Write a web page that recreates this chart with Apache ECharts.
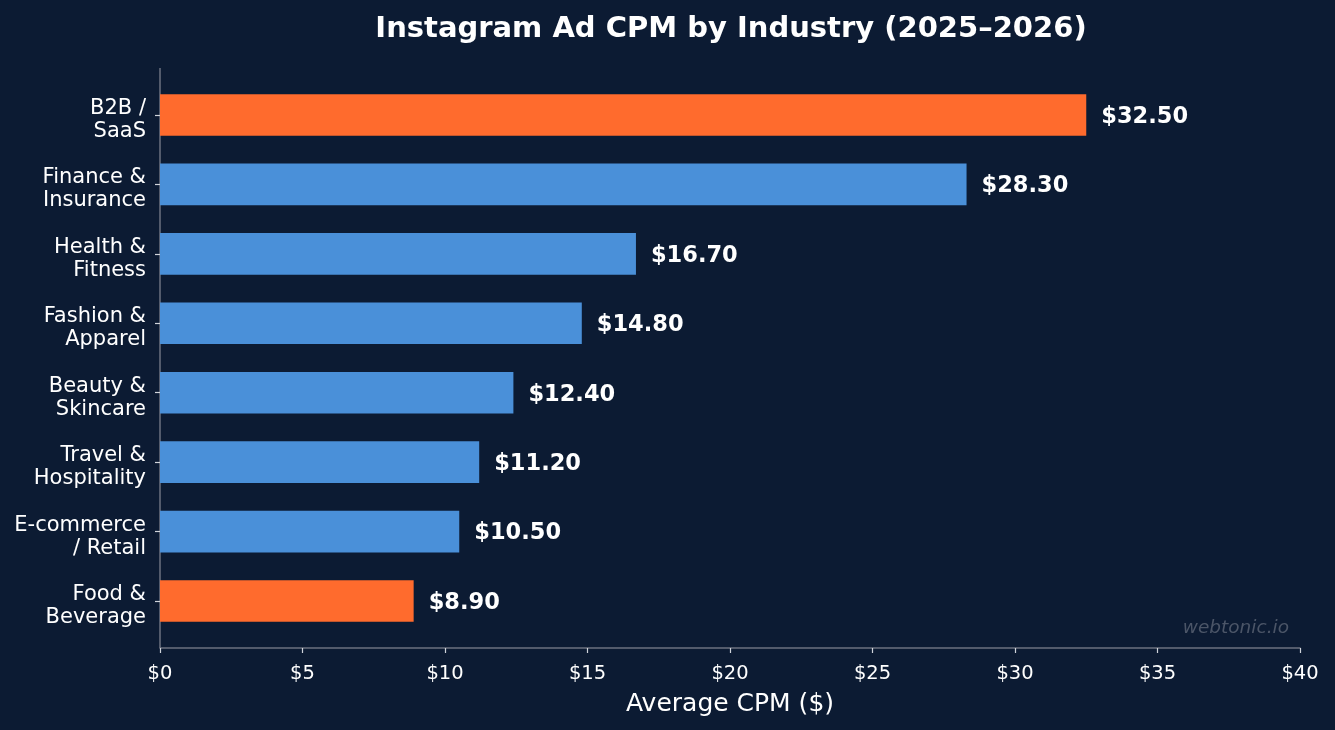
<!DOCTYPE html>
<html>
<head>
<meta charset="utf-8">
<script src="https://cdn.jsdelivr.net/npm/echarts@6/dist/echarts.min.js"></script>
<style>
  html, body { margin: 0; padding: 0; background: #0c1b33; }
  #chart { width: 1335px; height: 730px; }
</style>
</head>
<body>
<div id="chart"></div>
<script>
const industries = ['B2B /\nSaaS', 'Finance &\nInsurance', 'Health &\nFitness', 'Fashion &\nApparel',
    'Beauty &\nSkincare', 'Travel &\nHospitality', 'E-commerce\n/ Retail', 'Food &\nBeverage'];
const cpmValues = [32.5, 28.3, 16.7, 14.8, 12.4, 11.2, 10.5, 8.9];
// highest and lowest get the accent colour
const highlight = [true, false, false, false, false, false, false, true];
const xTicks = [0, 5, 10, 15, 20, 25, 30, 35, 40];

const orange = '#ff6b2d';
const blue = '#4a90d9';
const axisGray = '#6b7280';
const fontFamily = 'DejaVu Sans';

let chart = echarts.init(document.getElementById('chart'));
chart.setOption({
    backgroundColor: '#0c1b33',
    animation: false,
    textStyle: {fontFamily: fontFamily},
    title: {
        text: 'Instagram Ad CPM by Industry (2025\u20132026)',
        left: 726,
        textAlign: 'center',
        top: 10,
        textStyle: {color: '#ffffff', fontSize: 29, fontWeight: 'bold', fontFamily: fontFamily}
    },
    grid: {
        left: 160,
        right: 35,
        top: 80.3,
        bottom: 94.3
    },
    xAxis: {
        type: 'value',
        min: xTicks[0],
        max: xTicks[xTicks.length - 1],
        interval: 5,
        offset: 12.3,
        name: 'Average CPM ($)',
        nameLocation: 'middle',
        nameGap: 44,
        nameTextStyle: {color: '#ffffff', fontSize: 25, fontFamily: fontFamily},
        axisLine: {show: true, lineStyle: {color: axisGray, width: 1.5}},
        axisTick: {show: true, length: 5, lineStyle: {color: '#d0d4da', width: 1.2}},
        axisLabel: {
            color: '#ffffff',
            fontSize: 19.5,
            margin: 16,
            formatter: function (v) {
                return '$' + v;
            }
        },
        splitLine: {show: false}
    },
    yAxis: {
        type: 'category',
        inverse: true,
        data: industries,
        axisLine: {show: false},
        axisTick: {show: true, alignWithLabel: true, length: 5, lineStyle: {color: '#d0d4da', width: 1.2}},
        axisLabel: {
            color: '#ffffff',
            fontSize: 21,
            lineHeight: 23,
            align: 'right',
            margin: 14,
            // a thin blank first line pushes the two text lines down a little
            formatter: function (v) {
                return '{gap| }\n' + v.split('\n').map(function (s) {
                    return '{t|' + s + '}';
                }).join('\n');
            },
            rich: {
                gap: {fontSize: 2, lineHeight: 10},
                t: {color: '#ffffff', fontSize: 21, lineHeight: 23, fontFamily: fontFamily}
            }
        }
    },
    series: [
        {
            type: 'bar',
            barWidth: '60%',
            data: cpmValues.map(function (v, i) {
                return {value: v, itemStyle: {color: highlight[i] ? orange : blue}};
            }),
            label: {
                show: true,
                position: 'right',
                distance: 15,
                offset: [0, 2],
                color: '#ffffff',
                fontSize: 22.5,
                fontWeight: 'bold',
                fontFamily: fontFamily,
                formatter: function (p) {
                    return '$' + p.value.toFixed(2);
                }
            }
        }
    ],
    graphic: [
        {
            // left spine, runs past the bars like the original
            type: 'line',
            shape: {x1: 160, y1: 68, x2: 160, y2: 648},
            style: {stroke: axisGray, lineWidth: 1.5},
            silent: true
        },
        {
            type: 'text',
            right: 46,
            top: 619,
            style: {
                text: 'webtonic.io',
                fill: '#4b5567',
                font: 'italic 18.5px "DejaVu Sans"'
            },
            silent: true
        }
    ]
});
</script>
</body>
</html>
